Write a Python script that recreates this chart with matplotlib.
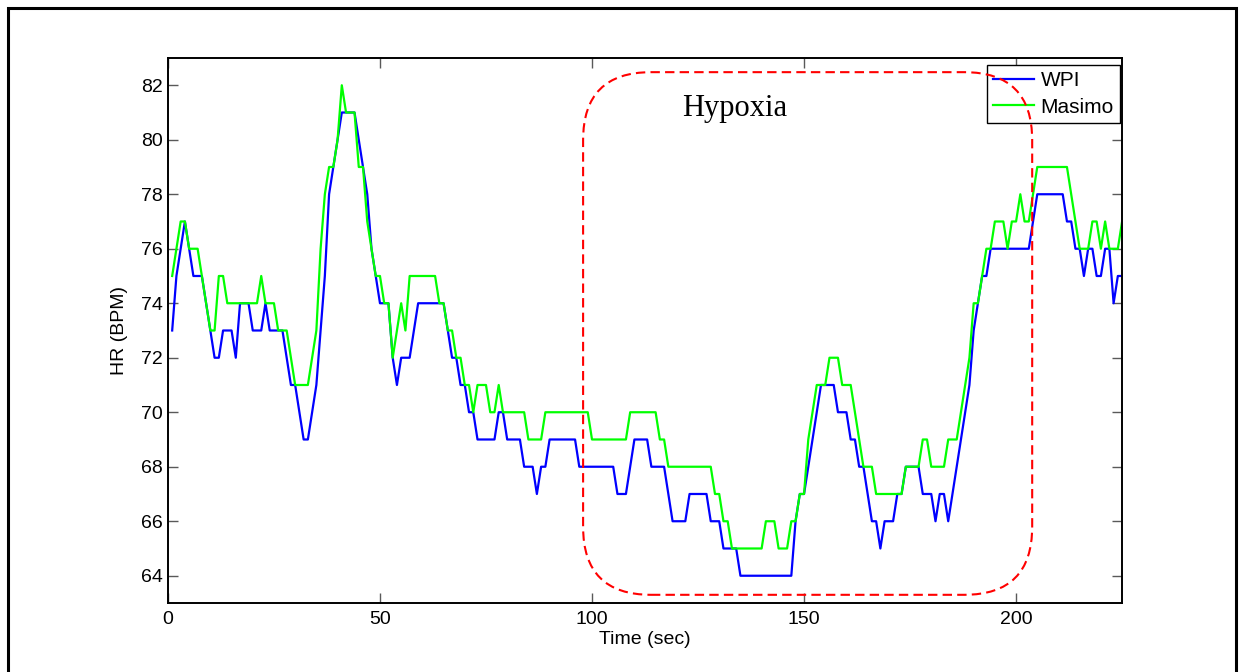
import matplotlib.pyplot as plt
from matplotlib.patches import FancyBboxPatch, Rectangle
import numpy as np

plt.rcParams['font.family'] = ['Liberation Sans', 'DejaVu Sans']

# heart rate, one sample per second, t = 1..225
time_sec = list(range(1, 226))

hr_wpi = [73, 75, 76, 77, 76, 75, 75, 75, 74, 73,
          72, 72, 73, 73, 73, 72, 74, 74, 74, 73,
          73, 73, 74, 73, 73, 73, 73, 72, 71, 71,
          70, 69, 69, 70, 71, 73, 75, 78, 79, 80,
          81, 81, 81, 81, 80, 79, 78, 76, 75, 74,
          74, 74, 72, 71, 72, 72, 72, 73, 74, 74,
          74, 74, 74, 74, 74, 73, 72, 72, 71, 71,
          70, 70, 69, 69, 69, 69, 69, 70, 70, 69,
          69, 69, 69, 68, 68, 68, 67, 68, 68, 69,
          69, 69, 69, 69, 69, 69, 68, 68, 68, 68,
          68, 68, 68, 68, 68, 67, 67, 67, 68, 69,
          69, 69, 69, 68, 68, 68, 68, 67, 66, 66,
          66, 66, 67, 67, 67, 67, 67, 66, 66, 66,
          65, 65, 65, 65, 64, 64, 64, 64, 64, 64,
          64, 64, 64, 64, 64, 64, 64, 66, 67, 67,
          68, 69, 70, 71, 71, 71, 71, 70, 70, 70,
          69, 69, 68, 68, 67, 66, 66, 65, 66, 66,
          66, 67, 67, 68, 68, 68, 68, 67, 67, 67,
          66, 67, 67, 66, 67, 68, 69, 70, 71, 73,
          74, 75, 75, 76, 76, 76, 76, 76, 76, 76,
          76, 76, 76, 77, 78, 78, 78, 78, 78, 78,
          78, 77, 77, 76, 76, 75, 76, 76, 75, 75,
          76, 76, 74, 75, 75]

hr_masimo = [75, 76, 77, 77, 76, 76, 76, 75, 74, 73,
             73, 75, 75, 74, 74, 74, 74, 74, 74, 74,
             74, 75, 74, 74, 74, 73, 73, 73, 72, 71,
             71, 71, 71, 72, 73, 76, 78, 79, 79, 80,
             82, 81, 81, 81, 79, 79, 77, 76, 75, 75,
             74, 74, 72, 73, 74, 73, 75, 75, 75, 75,
             75, 75, 75, 74, 74, 73, 73, 72, 72, 71,
             71, 70, 71, 71, 71, 70, 70, 71, 70, 70,
             70, 70, 70, 70, 69, 69, 69, 69, 70, 70,
             70, 70, 70, 70, 70, 70, 70, 70, 70, 69,
             69, 69, 69, 69, 69, 69, 69, 69, 70, 70,
             70, 70, 70, 70, 70, 69, 69, 68, 68, 68,
             68, 68, 68, 68, 68, 68, 68, 68, 67, 67,
             66, 66, 65, 65, 65, 65, 65, 65, 65, 65,
             66, 66, 66, 65, 65, 65, 66, 66, 67, 67,
             69, 70, 71, 71, 71, 72, 72, 72, 71, 71,
             71, 70, 69, 68, 68, 68, 67, 67, 67, 67,
             67, 67, 67, 68, 68, 68, 68, 69, 69, 68,
             68, 68, 68, 69, 69, 69, 70, 71, 72, 74,
             74, 75, 76, 76, 77, 77, 77, 76, 77, 77,
             78, 77, 77, 78, 79, 79, 79, 79, 79, 79,
             79, 79, 78, 77, 76, 76, 76, 77, 77, 76,
             77, 76, 76, 76, 77]

# hypoxia window (sec) and the HR span the box covers
hypoxia_t = [97.9, 203.8]
hypoxia_hr = [63.3, 82.48]

xlim = (0, 225)
ylim = (63, 83)

fig = plt.figure(figsize=(12.44, 6.72), dpi=100)
ax = fig.add_axes([0.135, 0.1027, 0.767, 0.811])

ax.plot(time_sec, hr_wpi, color=(0, 0, 1), lw=1.6, label='WPI')
ax.plot(time_sec, hr_masimo, color=(0, 1, 0), lw=1.6, label='Masimo')

ax.set_xlim(*xlim)
ax.set_ylim(*ylim)
ax.set_xticks([0, 50, 100, 150, 200])
ax.set_yticks(np.arange(64, 83, 2))
ax.tick_params(direction='in', top=True, right=True, length=7, width=1,
               color='0.35', labelsize=14)
ax.tick_params(axis='x', pad=6)
ax.tick_params(axis='y', pad=4)
for s in ax.spines.values():
    s.set_linewidth(1.4)
ax.set_xlabel('Time (sec)', fontsize=14, labelpad=2)
ax.set_ylabel('HR (BPM)', fontsize=14, labelpad=9)

leg = ax.legend(loc='upper right', bbox_to_anchor=(0.998, 0.987), borderaxespad=0,
                fontsize=15, fancybox=False, edgecolor='k', framealpha=1,
                handlelength=2.0, handletextpad=0.3, labelspacing=0.35, borderpad=0.3)
leg.get_frame().set_linewidth(1.0)
leg.set_zorder(4)

# rounded dashed box around the hypoxia period, circular corners on screen
ax_w = 0.767 * 1244
ax_h = 0.811 * 672
aspect = ((ylim[1] - ylim[0]) / ax_h) / ((xlim[1] - xlim[0]) / ax_w)
box = FancyBboxPatch((hypoxia_t[0], hypoxia_hr[0]),
                     hypoxia_t[1] - hypoxia_t[0], hypoxia_hr[1] - hypoxia_hr[0],
                     boxstyle='round,pad=0,rounding_size=16', mutation_aspect=aspect,
                     fill=False, edgecolor=(1, 0, 0), lw=1.5, linestyle=(0, (4.5, 2.5)),
                     zorder=6, clip_on=False)
ax.add_patch(box)
ax.text(133.7, 81.15, 'Hypoxia', fontsize=22, family='Liberation Serif',
        ha='center', va='center')

# outer frame
fig.patches.append(Rectangle((8 / 1244, -0.05), 1228 / 1244, 1.05 - 8 / 672,
                             transform=fig.transFigure, fill=False,
                             edgecolor='k', lw=2.2))

fig.savefig('out.png', dpi=100)
